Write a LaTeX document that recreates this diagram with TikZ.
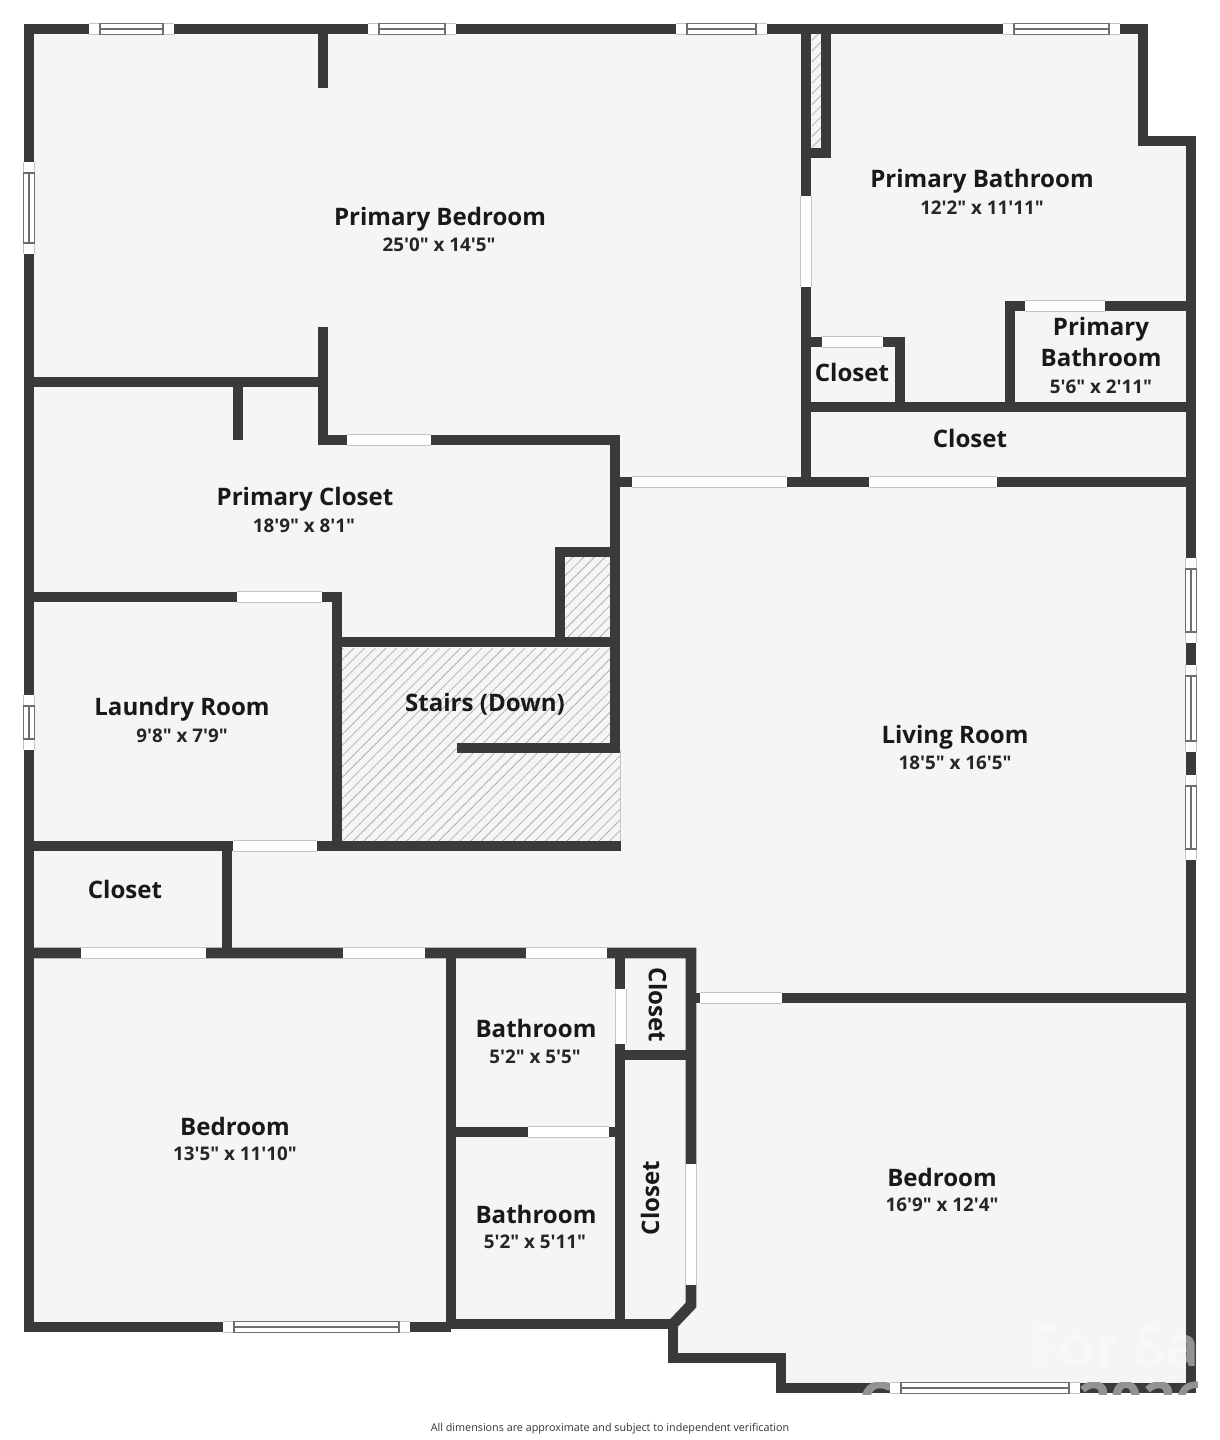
\documentclass[tikz,border=0pt]{standalone}
\usepackage{fontspec}
\setmainfont{Open Sans}[Ligatures=TeXOff]
\usetikzlibrary{patterns.meta}
\definecolor{wallc}{HTML}{3A3A3A}
\definecolor{floorc}{HTML}{F5F5F5}
\definecolor{edgec}{HTML}{C4C4C4}
\definecolor{panec}{HTML}{6E6E6E}
\newcommand{\gaph}[3]{\draw[gap] (#1,#3) -- (#2,#3);
  \draw[gapedge] (#1,#3-5.5) -- (#2,#3-5.5) (#1,#3+5.5) -- (#2,#3+5.5);}
\newcommand{\gapv}[3]{\draw[gap] (#3,#1) -- (#3,#2);
  \draw[gapedge] (#3-5.5,#1) -- (#3-5.5,#2) (#3+5.5,#1) -- (#3+5.5,#2);}
\newcommand{\winh}[3]{\gaph{#1}{#2}{#3}
  \draw[pane] (#1+11,#3-5.5) rectangle (#2-11,#3+5.5) (#1+11,#3) -- (#2-11,#3);}
\newcommand{\winv}[3]{\gapv{#1}{#2}{#3}
  \draw[pane] (#3-5.5,#1+11) rectangle (#3+5.5,#2-11) (#3,#1+11) -- (#3,#2-11);}

\begin{document}
\begin{tikzpicture}[x=0.02cm,y=-0.02cm,
  wall/.style={draw=wallc,line width=6.2pt,miter limit=10},
  gap/.style={draw=white,line width=6.2pt},
  gapedge/.style={draw=edgec,line width=0.5pt},
  pane/.style={draw=panec,line width=0.6pt},
  hatch/.style={pattern={Lines[angle=45,distance=4.3pt,line width=0.45pt]},pattern color=gray!62},
  roomname/.style={font=\fontsize{13.7}{16}\selectfont\bfseries,text=black!90,inner sep=0pt},
  roomsize/.style={font=\fontsize{10.7}{13}\selectfont\bfseries,text=black!85,inner sep=0pt},
  saletext/.style={font=\fontsize{32}{36}\selectfont\bfseries,inner sep=0pt}]

\useasboundingbox (0,0) rectangle (1220,1440);

\fill[floorc] (29,29) -- (1143,29) -- (1143,141) -- (1191,141) -- (1191,1388) -- (781,1388)
  -- (781,1358) -- (673,1358) -- (673,1324) -- (451,1324) -- (451,1327) -- (29,1327) -- cycle;

\begin{scope}
\clip (1000,1310) rectangle (1186,1382);
\node[saletext,text=white!30!floorc] (forsale) at (1139,1345) {For Sale};
\end{scope}

\fill[hatch] (342,648) -- (610,648) -- (610,743) -- (620,743) -- (620,841) -- (342,841) -- cycle;
\fill[hatch] (565,557) rectangle (610,637);
\fill[hatch] (812,34) rectangle (821,148);
\draw[gapedge] (620,750) -- (620,842);

\draw[wall] (451,1327) -- (29,1327) -- (29,29) -- (1143,29) -- (1143,141) -- (1191,141) -- (1191,1388)
  -- (781,1388) -- (781,1358) -- (673,1358) -- (673,1324) -- (451,1324);
\draw[wall] (323,29) -- (323,88);
\draw[wall] (29,382) -- (323,382);
\draw[wall] (323,327) -- (323,440) -- (615,440) -- (615,748) -- (457,748);
\draw[wall] (238,382) -- (238,440);
\draw[wall] (29,597) -- (337,597) -- (337,846);
\draw[wall] (337,642) -- (615,642);
\draw[wall] (560,642) -- (560,552) -- (615,552);
\draw[wall] (29,846) -- (621,846);
\draw[wall] (227,846) -- (227,953);
\draw[wall] (29,953) -- (691,953) -- (691,1305) -- (673,1324);
\draw[wall] (451,953) -- (451,1329);
\draw[wall] (620,953) -- (620,1324);
\draw[wall] (451,1132) -- (620,1132);
\draw[wall] (620,1055) -- (691,1055);
\draw[wall] (691,998) -- (1191,998);
\draw[wall] (615,482) -- (1191,482);
\draw[wall] (806,29) -- (806,482);
\draw[wall] (806,153) -- (826,153) -- (826,29);
\draw[wall] (806,342) -- (900,342) -- (900,407);
\draw[wall] (806,407) -- (1191,407);
\draw[wall] (1191,306) -- (1010,306) -- (1010,407);

\begin{scope}
\clip (1186,1310) rectangle (1197,1382) (860,1382) rectangle (1197,1394);
\node[saletext,text=gray!85] (forsalewall) at (1139,1345) {For Sale};
\node[saletext,text=gray!85] (markc) at (876,1402) {C};
\node[saletext,text=gray!85] (markyear) at (1143,1402) {2026};
\end{scope}

\gaph{347}{431}{440}
\gaph{632}{787}{482}
\gaph{869}{997}{482}
\gaph{237}{322}{597}
\gaph{233}{317}{846}
\gaph{81}{206}{953}
\gaph{343}{425}{953}
\gaph{526}{607}{953}
\gaph{700}{782}{998}
\gaph{528}{609}{1132}
\gaph{822}{883}{342}
\gaph{1025}{1105}{306}
\gapv{196}{287}{806}
\gapv{989}{1044}{621}
\gapv{1164}{1285}{691}

\winh{89}{174}{29}
\winh{368}{456}{29}
\winh{676}{767}{29}
\winh{1003}{1120}{29}
\winh{223}{410}{1327}
\winh{890}{1080}{1388}
\winv{162}{254}{29}
\winv{695}{750}{29}
\winv{558}{643}{1191}
\winv{665}{752}{1191}
\winv{775}{860}{1191}

\node[roomname] (bedprimary) at (440,219) {Primary Bedroom};
\node[roomsize] (bedprimarysize) at (439,245) {25'0" x 14'5"};
\node[roomname] (bathprimary) at (982,181) {Primary Bathroom};
\node[roomsize] (bathprimarysize) at (982,208) {12'2" x 11'11"};
\node[roomname] (bathsmalla) at (1101,329) {Primary};
\node[roomname] (bathsmallb) at (1101,357) {Bathroom};
\node[roomsize] (bathsmallsize) at (1101,387) {5'6" x 2'11"};
\node[roomname] (closeta) at (852,372) {Closet};
\node[roomname] (closetb) at (970,438) {Closet};
\node[roomname] (closetprimary) at (305,499) {Primary Closet};
\node[roomsize] (closetprimarysize) at (304,526) {18'9" x 8'1"};
\node[roomname] (stairs) at (485,704) {Stairs (Down)};
\node[roomname] (laundry) at (182,709) {Laundry Room};
\node[roomsize] (laundrysize) at (182,736) {9'8" x 7'9"};
\node[roomname] (living) at (955,737) {Living Room};
\node[roomsize] (livingsize) at (955,763) {18'5" x 16'5"};
\node[roomname] (closetc) at (125,889) {Closet};
\node[roomname] (batha) at (536,1028) {Bathroom};
\node[roomsize] (bathasize) at (535,1057) {5'2" x 5'5"};
\node[roomname,rotate=-90] (closetd) at (658,1005) {Closet};
\node[roomname,rotate=90] (closete) at (650,1198) {Closet};
\node[roomname] (bathb) at (536,1214) {Bathroom};
\node[roomsize] (bathbsize) at (535,1242) {5'2" x 5'11"};
\node[roomname] (beda) at (235,1126) {Bedroom};
\node[roomsize] (bedasize) at (235,1154) {13'5" x 11'10"};
\node[roomname] (bedb) at (942,1177) {Bedroom};
\node[roomsize] (bedbsize) at (942,1205) {16'9" x 12'4"};
\node[font=\fontsize{6.13}{8}\selectfont,text=black!80,inner sep=0pt] (footer) at (610,1429)
  {All dimensions are approximate and subject to independent verification};

\end{tikzpicture}
\end{document}
